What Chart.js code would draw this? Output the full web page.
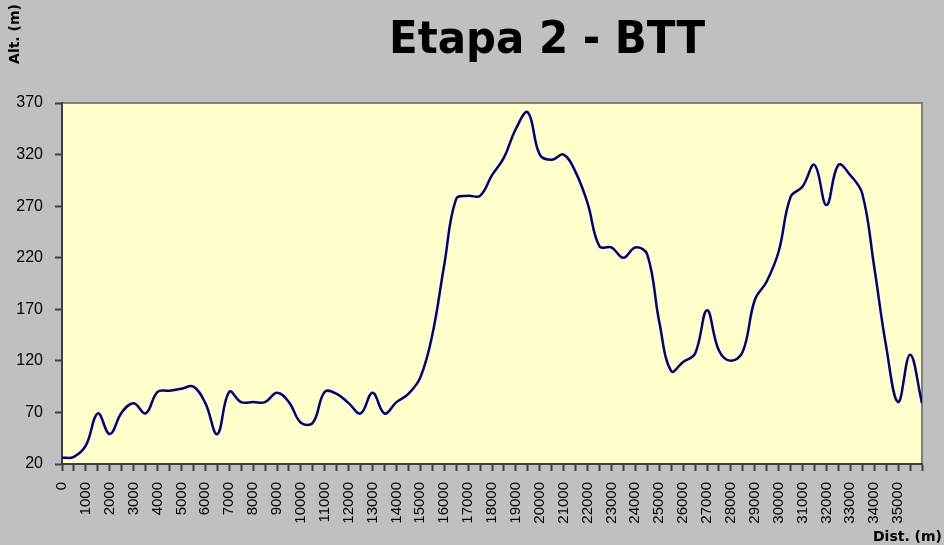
<!DOCTYPE html>
<html>
<head>
<meta charset="utf-8">
<title>Etapa 2 - BTT</title>
<script src="https://cdn.jsdelivr.net/npm/chart.js@4/dist/chart.umd.min.js"></script>
<style>
    html, body { margin: 0; padding: 0; background: #c0c0c0; }
    #chart { display: block; }
</style>
</head>
<body>
<canvas id="chart" width="944" height="545"></canvas>
<script>
// Profile data (distance in m, altitude in m)
const distances = [
    0, 500, 1000, 1500, 2000, 2500, 3000, 3500, 4000, 4500,
    5000, 5500, 6000, 6500, 7000, 7500, 8000, 8500, 9000, 9500,
    10000, 10500, 11000, 11500, 12000, 12500, 13000, 13500, 14000, 14500,
    15000, 15500, 16000, 16500, 17000, 17500, 18000, 18500, 19000, 19500,
    20000, 20500, 21000, 21500, 22000, 22500, 23000, 23500, 24000, 24500,
    25000, 25500, 26000, 26500, 27000, 27500, 28000, 28500, 29000, 29500,
    30000, 30500, 31000, 31500, 32000, 32500, 33000, 33500, 34000, 34500,
    35000, 35500, 36000
];
const altitudes = [
    26, 27, 38, 69, 49, 70, 79, 69, 90, 91,
    93, 95, 79, 49, 90, 80, 80, 80, 89, 80,
    60, 60, 90, 88, 79, 69, 89, 69, 80, 88,
    104, 145, 213, 277, 280, 280, 300, 317, 345, 361,
    320, 315, 320, 303, 273, 231, 230, 220, 230, 223,
    158, 110, 119, 127, 169, 130, 120, 129, 179, 197,
    226, 279, 289, 310, 271, 310, 300, 282, 211, 134,
    80, 126, 79
];
const chartTitle = "Etapa 2 - BTT";
const yTitle = "Alt. (m)";
const xTitle = "Dist. (m)";
const yMin = 20, yMax = 370, yStep = 50;
const xMax = 36000, xLabelEvery = 1000;

const points = distances.map((d, i) => ({ x: d, y: altitudes[i] }));

// background, plot area and frame
const backdrop = {
    id: "backdrop",
    beforeDraw(chart) {
        const ctx = chart.ctx;
        const a = chart.chartArea;
        ctx.save();
        ctx.fillStyle = "#c0c0c0";
        ctx.fillRect(0, 0, chart.width, chart.height);
        ctx.fillStyle = "#ffffcc";
        ctx.fillRect(a.left, a.top, a.right - a.left, a.bottom - a.top);
        ctx.strokeStyle = "#808080";
        ctx.lineWidth = 2;
        ctx.beginPath();
        ctx.moveTo(a.left, a.top);
        ctx.lineTo(a.right, a.top);
        ctx.lineTo(a.right, a.bottom);
        ctx.stroke();
        ctx.restore();
    },
    afterDraw(chart) {
        const ctx = chart.ctx;
        ctx.save();
        // main title
        ctx.fillStyle = "#000";
        ctx.font = "bold 44px 'DejaVu Sans'";
        ctx.textBaseline = "alphabetic";
        ctx.textAlign = "center";
        const w = ctx.measureText(chartTitle).width;
        const sx = 316 / w;
        ctx.translate(547, 53);
        ctx.scale(sx, 1);
        ctx.fillText(chartTitle, 0, 0);
        ctx.restore();

        // axis titles
        ctx.save();
        ctx.fillStyle = "#000";
        ctx.font = "bold 14px 'DejaVu Sans'";
        ctx.textAlign = "center";
        ctx.textBaseline = "middle";
        ctx.translate(15, 34);
        ctx.rotate(-Math.PI / 2);
        ctx.fillText(yTitle, 0, 0);
        ctx.restore();

        ctx.save();
        ctx.fillStyle = "#000";
        ctx.font = "bold 14px 'DejaVu Sans'";
        ctx.textAlign = "right";
        ctx.textBaseline = "middle";
        ctx.fillText(xTitle, 942, 537);
        ctx.restore();
    }
};

const chart = new Chart(document.getElementById("chart"), {
    type: "line",
    data: {
        datasets: [{
            data: points,
            borderColor: "#000080",
            borderWidth: 2.5,
            pointRadius: 0,
            fill: false,
            tension: 0.4
        }]
    },
    options: {
        responsive: false,
        animation: false,
        layout: { padding: { left: 0, top: 103, right: 22, bottom: 0 } },
        plugins: {
            legend: { display: false },
            tooltip: { enabled: false }
        },
        scales: {
            x: {
                type: "linear",
                min: 0,
                max: xMax,
                afterFit: (s) => {
                    s.height = 81;
                    s.paddingLeft = 0;
                    s.paddingRight = 0;
                },
                afterBuildTicks: (s) => {
                    s.ticks = distances.map(d => ({ value: d }));
                },
                ticks: {
                    autoSkip: false,
                    minRotation: 90,
                    maxRotation: 90,
                    padding: 11,
                    color: "#000",
                    font: { family: "'Liberation Sans'", size: 15 },
                    callback: (v) => (v % xLabelEvery === 0 && v < xMax) ? String(v) : ""
                },
                grid: {
                    drawOnChartArea: false,
                    drawTicks: true,
                    tickLength: 7,
                    tickColor: "#404040",
                    tickWidth: 2
                },
                border: { display: true, color: "#404040", width: 2 }
            },
            y: {
                min: yMin,
                max: yMax,
                afterFit: (s) => { s.width = 62; },
                ticks: {
                    stepSize: yStep,
                    padding: 12,
                    color: "#000",
                    font: { family: "'Liberation Sans'", size: 16 }
                },
                grid: {
                    drawOnChartArea: false,
                    drawTicks: true,
                    tickLength: 7,
                    tickColor: "#404040",
                    tickWidth: 2
                },
                border: { display: true, color: "#404040", width: 2 }
            }
        }
    },
    plugins: [backdrop]
});
</script>
</body>
</html>
